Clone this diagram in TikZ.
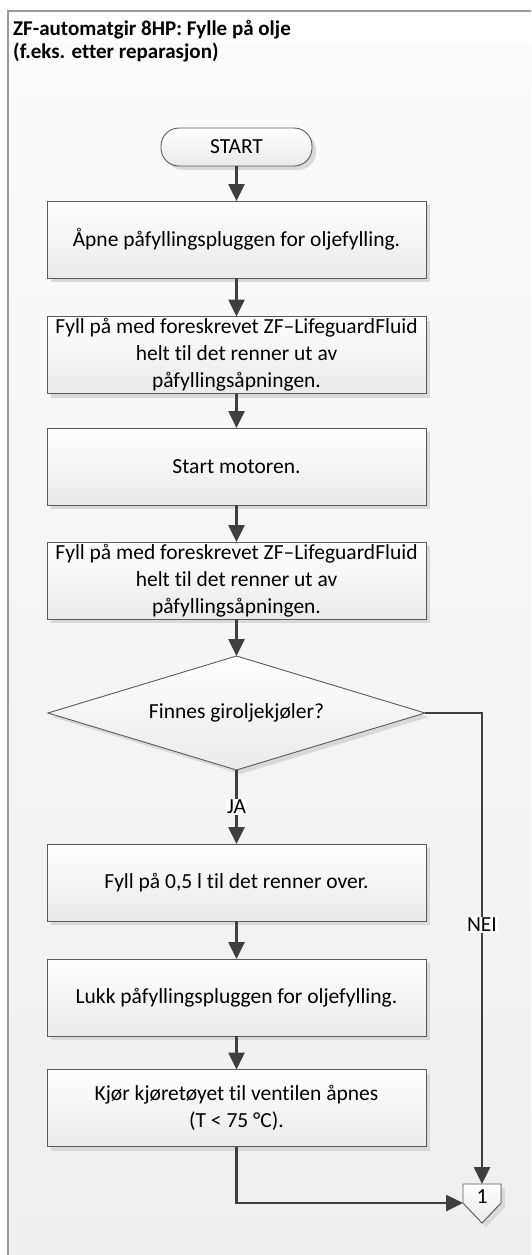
\documentclass[tikz,border=0pt]{standalone}
\usepackage{fontspec}
\setmainfont{Carlito}[Ligatures=CommonOff]
\usetikzlibrary{arrows.meta,shadows,shapes.geometric}
\definecolor{linec}{HTML}{3F3F3F}
\definecolor{boxline}{HTML}{5A5A5A}
\definecolor{framec}{HTML}{9A9A9A}
\definecolor{shadec}{HTML}{EAEAEA}
\definecolor{bgtop}{HTML}{FBFBFB}
\definecolor{bgbot}{HTML}{EFEFEF}
\definecolor{shadowc}{HTML}{D9D9D9}
\tikzset{
  boxfont/.style={font=\fontsize{21.5}{27}\selectfont},
  shad/.style={drop shadow={shadow xshift=4pt,shadow yshift=-4pt,fill=shadowc,opacity=1}},
  procbox/.style={draw=boxline,line width=0.9pt,top color=white,bottom color=shadec,shad,minimum width=379pt,minimum height=77pt,inner sep=0pt,outer sep=0pt,align=center,boxfont},
  termbox/.style={procbox,rounded corners=18pt,minimum width=151pt,minimum height=38pt},
  decbox/.style={diamond,draw=boxline,line width=0.9pt,top color=white,bottom color=shadec,shad,minimum width=377pt,minimum height=114pt,aspect=3.3,inner sep=0pt,outer sep=0pt,boxfont},
  flow/.style={draw=linec,line width=2.6pt,-{Triangle[length=17pt,width=16pt]}},
  lbl/.style={fill=white,inner sep=1pt,boxfont},
}
\begin{document}
\begin{tikzpicture}[x=1pt,y=-1pt]
\useasboundingbox (0,0) rectangle (531,1255);
\clip (0,0) rectangle (531,1255);
\fill[white] (0,0) rectangle (531,1255);
\shade[top color=bgtop,bottom color=bgbot] (8,43) rectangle (540,1265);
\draw[framec,line width=2pt] (540,11) -- (8,11) -- (8,1265);
\node[anchor=north west,inner sep=0pt,align=left,font=\bfseries\fontsize{21}{23}\selectfont] (title) at (13,20.5) {ZF-automatgir 8HP: Fylle på olje\\(f.eks. etter reparasjon)};

\node[termbox] (start) at (236.5,147) {START};
\node[procbox] (b1) at (236.5,239.5) {Åpne påfyllingspluggen for oljefylling.};
\node[procbox] (b2) at (236.5,355) {Fyll på med foreskrevet ZF–LifeguardFluid\\helt til det renner ut av\\påfyllingsåpningen.};
\node[procbox] (b3) at (236.5,466.5) {Start motoren.};
\node[procbox] (b4) at (236.5,580.5) {Fyll på med foreskrevet ZF–LifeguardFluid\\helt til det renner ut av\\påfyllingsåpningen.};
\node[decbox] (dec) at (236.5,713) {Finnes giroljekjøler?};
\node[procbox] (b5) at (236.5,882.5) {Fyll på 0,5 l til det renner over.};
\node[procbox] (b6) at (236.5,997.5) {Lukk påfyllingspluggen for oljefylling.};
\node[procbox] (b7) at (236.5,1108) {Kjør kjøretøyet til ventilen åpnes\\(T < 75 °C).};

\filldraw[draw=boxline,line width=0.9pt,top color=white,bottom color=shadec,shad] (463,1184) -- (501,1184) -- (501,1203) -- (482,1223) -- (463,1203) -- cycle;
\node[minimum width=38pt,minimum height=19pt,inner sep=0pt,outer sep=0pt,label={[boxfont,inner sep=0pt,yshift=-3.5pt]center:1}] (off) at (482,1193.5) {};

\draw[flow] (start.south) -- (b1.north);
\draw[flow] (b1.south) -- (b2.north);
\draw[flow] (b2.south) -- (b3.north);
\draw[flow] (b3.south) -- (b4.north);
\draw[flow] (b4.south) -- (dec.north);
\draw[flow] (dec.south) -- node[lbl] {JA} (b5.north);
\draw[flow] (b5.south) -- (b6.north);
\draw[flow] (b6.south) -- (b7.north);
\draw[flow] (dec.east) -| node[lbl,pos=0.725] {NEI} (off.north);
\draw[flow] (b7.south) |- (off.south west);
\end{tikzpicture}
\end{document}
